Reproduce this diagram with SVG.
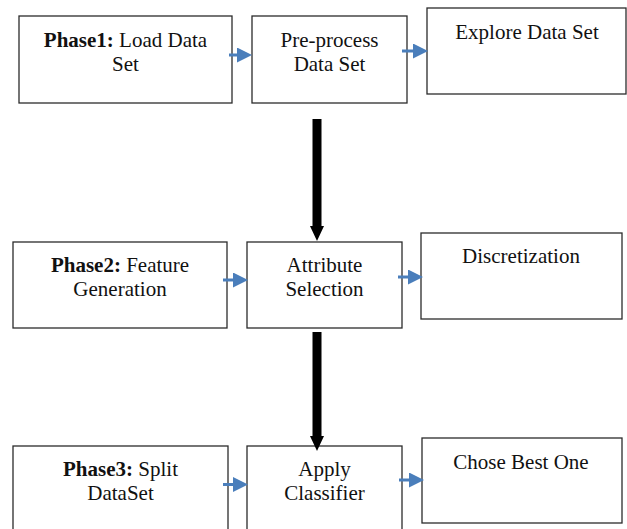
<svg xmlns="http://www.w3.org/2000/svg" width="627" height="529" viewBox="0 0 627 529">
  <style>
    .box { fill: #ffffff; stroke: #2b2b2b; stroke-width: 1.3; }
    .lbl { font-family: "Liberation Serif", "Times New Roman", serif; font-size: 21px; fill: #111; text-anchor: middle; }
    .b { font-weight: bold; }
    .flow { stroke: #4a7ebb; stroke-width: 3; fill: none; marker-end: url(#blueHead); }
    .down { stroke: #000; stroke-width: 9; fill: none; marker-end: url(#blackHead); }
  </style>
  <defs>
    <marker id="blueHead" markerUnits="userSpaceOnUse" viewBox="0 0 15 15" refX="11" refY="7.5" markerWidth="15" markerHeight="15" orient="auto">
      <path d="M0,0 L15,7.5 L0,15 Z" fill="#4a7ebb"/>
    </marker>
    <marker id="blackHead" markerUnits="userSpaceOnUse" viewBox="0 0 15 14" refX="4" refY="7" markerWidth="15" markerHeight="14" orient="auto">
      <path d="M0,0 L15,7 L0,14 Z" fill="#000"/>
    </marker>
  </defs>

  <rect width="627" height="529" fill="#ffffff"/>

  <!-- Row 1 -->
  <g id="load-data">
    <rect class="box" x="19" y="16" width="213" height="87"/>
    <text class="lbl" x="125.5" y="47"><tspan class="b">Phase1:</tspan> Load Data</text>
    <text class="lbl" x="125.5" y="71">Set</text>
  </g>
  <g id="preprocess">
    <rect class="box" x="252" y="16" width="155" height="87"/>
    <text class="lbl" x="329.5" y="47">Pre-process</text>
    <text class="lbl" x="329.5" y="71">Data Set</text>
  </g>
  <g id="explore">
    <rect class="box" x="427" y="8" width="199" height="86"/>
    <text class="lbl" x="527" y="39">Explore Data Set</text>
  </g>

  <!-- Row 2 -->
  <g id="feature-generation">
    <rect class="box" x="13" y="242" width="214" height="86"/>
    <text class="lbl" x="120" y="272"><tspan class="b">Phase2:</tspan> Feature</text>
    <text class="lbl" x="120" y="296">Generation</text>
  </g>
  <g id="attribute-selection">
    <rect class="box" x="247" y="242" width="155" height="86"/>
    <text class="lbl" x="324.5" y="272">Attribute</text>
    <text class="lbl" x="324.5" y="296">Selection</text>
  </g>
  <g id="discretization">
    <rect class="box" x="421" y="233" width="201" height="86"/>
    <text class="lbl" x="521" y="263">Discretization</text>
  </g>

  <!-- Row 3 (lower boxes run off the bottom edge) -->
  <g id="split-dataset">
    <rect class="box" x="13" y="446" width="215" height="100"/>
    <text class="lbl" x="120.5" y="476"><tspan class="b">Phase3:</tspan> Split</text>
    <text class="lbl" x="120.5" y="500">DataSet</text>
  </g>
  <g id="apply-classifier">
    <rect class="box" x="247" y="446" width="155" height="100"/>
    <text class="lbl" x="324.5" y="476">Apply</text>
    <text class="lbl" x="324.5" y="500">Classifier</text>
  </g>
  <g id="chose-best">
    <rect class="box" x="422" y="438" width="200" height="85"/>
    <text class="lbl" x="521" y="469">Chose Best One</text>
  </g>

  <!-- Connectors -->
  <g id="connectors">
    <line class="flow" x1="229" y1="55" x2="248" y2="55"/>
    <line class="flow" x1="402" y1="51" x2="424" y2="51"/>
    <line class="flow" x1="223" y1="280" x2="244" y2="280"/>
    <line class="flow" x1="398" y1="277" x2="419" y2="277"/>
    <line class="flow" x1="223" y1="484.5" x2="244" y2="484.5"/>
    <line class="flow" x1="399" y1="480" x2="420" y2="480"/>
    <line class="down" x1="317" y1="119" x2="317" y2="230"/>
    <line class="down" x1="317" y1="332" x2="317" y2="440"/>
  </g>
</svg>
